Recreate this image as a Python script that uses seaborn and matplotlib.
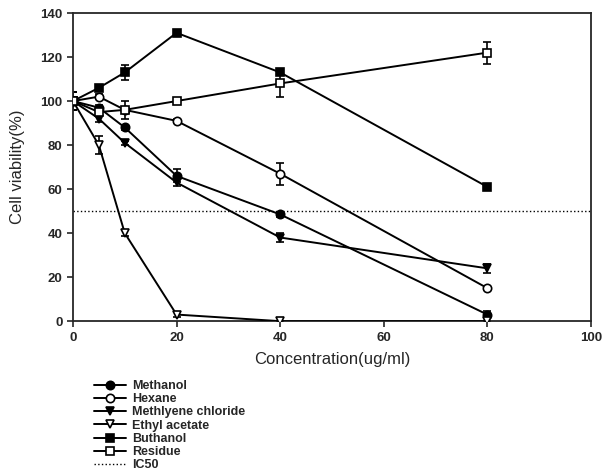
import numpy as np
import pandas as pd
import matplotlib
matplotlib.use("Agg")
import matplotlib.pyplot as plt
import seaborn as sns

# ---------- data ----------
conc = [0, 5, 10, 20, 40, 80]

methanol = [100, 97, 88, 66, 48.5, 3]
hexane = [100, 102, 96, 91, 67, 15]
methylene = [100, 92, 81, 63, 38, 24]
ethyl = [100, 80, 40, 3, 0, 0]
buthanol = [100, 106, 113, 131, 113, 61]
residue = [100, 95, 96, 100, 108, 122]

methanol_err = [4, 1, 1, 3, 1, 1.5]
hexane_err = [4, 1, 1, 1, 5, 1]
methylene_err = [4, 1.5, 1, 1.5, 2, 2]
ethyl_err = [4, 4, 1.5, 1, 0, 0]
buthanol_err = [4, 1, 3.5, 1.5, 1, 1.5]
residue_err = [4, 1, 4, 1, 6, 5]

names = ["Methanol", "Hexane", "Methlyene chloride", "Ethyl acetate", "Buthanol", "Residue"]
ic50 = 50

series = [methanol, hexane, methylene, ethyl, buthanol, residue]
errors = [methanol_err, hexane_err, methylene_err, ethyl_err, buthanol_err, residue_err]
styles = [("o", "black"), ("o", "white"), ("v", "black"), ("v", "white"), ("s", "black"), ("s", "white")]

sns.set_style("ticks")
plt.rcParams["font.family"] = ["Liberation Sans", "DejaVu Sans"]
plt.rcParams["font.weight"] = "bold"

fig = plt.figure(figsize=(6.03, 4.73), dpi=100)
ax = fig.add_axes([0.121, 0.321, 0.859, 0.6515])

handles = []
for name, vals, err, (mk, fc) in zip(names, series, errors, styles):
    df = pd.DataFrame({"conc": conc, "viab": vals})
    sns.lineplot(data=df, x="conc", y="viab", ax=ax, color="black", lw=1.4,
                 marker=mk, markersize=6, markerfacecolor=fc,
                 markeredgecolor="black", markeredgewidth=1.2, zorder=3)
    ax.errorbar(conc, vals, yerr=err, fmt="none", ecolor="black",
                elinewidth=1.2, capsize=3, capthick=1.2, zorder=2)
    h, = ax.plot([], [], color="black", lw=1.4, marker=mk, markersize=6,
                 markerfacecolor=fc, markeredgecolor="black", markeredgewidth=1.2)
    handles.append(h)

ic, = ax.plot([0, 100], [ic50, ic50], color="black", lw=1.0, ls=":")
handles.append(ic)

ax.set_xlim(0, 100)
ax.set_ylim(0, 140)
ax.set_xticks(range(0, 101, 20))
ax.set_yticks(range(0, 141, 20))
ax.tick_params(direction="out", length=4, width=1.2, labelsize=9.5)
for s in ax.spines.values():
    s.set_linewidth(1.3)
ax.set_xlabel("Concentration(ug/ml)", fontsize=12, fontweight="normal", labelpad=6)
ax.set_ylabel("Cell viability(%)", fontsize=12, fontweight="normal", labelpad=11)

fig.legend(handles, names + ["IC50"], loc="upper left",
           bbox_to_anchor=(0.145, 0.21), frameon=False, fontsize=9,
           handlelength=2.6, labelspacing=0.1, borderpad=0, handletextpad=0.5)

fig.savefig("out.png", dpi=100)
